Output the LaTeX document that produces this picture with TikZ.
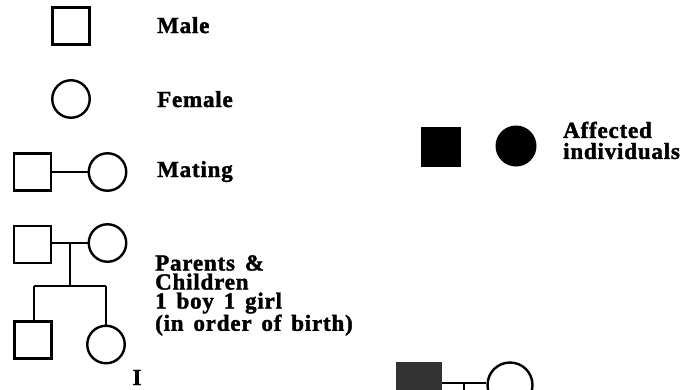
\documentclass[tikz,border=0pt]{standalone}
\usepackage{fontspec}
\setmainfont{Liberation Serif}[LetterSpace=3.5,WordSpace=1.5,BoldFeatures={FakeBold=1.6}]
\begin{document}
\begin{tikzpicture}[x=1pt,y=-1pt,
  sym/.style={draw=black,line width=2.4pt,inner sep=0pt,fill=white},
  male/.style={sym,rectangle,minimum size=37pt},
  female/.style={sym,circle,minimum size=37.5pt},
  conn/.style={draw=black,line width=2.4pt},
  lbl/.style={anchor=base west,inner sep=0pt,font=\bfseries\fontsize{23}{19}\selectfont,align=left}
]
\useasboundingbox (0,0) rectangle (687,389);
\clip (0,0) rectangle (687,389);
% Male / Female legend
\node[male] (m1) at (71,26) {};
\node[lbl] (tm) at (157,33) {Male};
\node[female] (f1) at (71,99) {};
\node[lbl] (tf) at (157,107) {Female};
% Mating
\node[male] (m2) at (32.5,172) {};
\node[female] (f2) at (107.5,172) {};
\draw[conn] (m2) -- (f2);
\node[lbl] (tmat) at (157,177) {Mating};
% Parents & children
\node[male] (m3) at (32.5,244.5) {};
\node[female] (f3) at (107.5,243) {};
\coordinate (mid) at (70,243);
\coordinate (sib) at (70,286);
\coordinate (sl) at (34,286);
\coordinate (sr) at (106,286);
\node[male] (c1) at (33,340) {};
\node[female] (c2) at (106,344.5) {};
\draw[conn] (m3.east |- mid) -- (f3.west);
\draw[conn] (mid) -- (sib);
\draw[conn] (sl) -- (sr);
\draw[conn] (sl) -- (c1.north -| sl);
\draw[conn] (sr) -- (c2.north);
\node[lbl,anchor=north west] (tp) at (155,255) {Parents \&\\Children\\1 boy 1 girl\\(in order of birth)};
\node[lbl,anchor=base] (gen) at (137,385) {I};
% Affected
\node[sym,rectangle,fill=black,minimum size=40pt,draw=none] (am) at (441,147) {};
\node[sym,circle,fill=black,minimum size=41pt,draw=none] (af) at (516,146) {};
\node[lbl,anchor=north west,font=\bfseries\fontsize{23}{21}\selectfont] (ta) at (563,121.5) {Affected\\individuals};
% Bottom partial pedigree
\node[rectangle,fill=black!80,minimum size=46pt,inner sep=0pt] (bm) at (419,385) {};
\node[female,minimum size=45pt] (bf) at (510,385) {};
\coordinate (bt) at (464,383);
\coordinate (btd) at (464,400);
\draw[line width=1.8pt] (bm.east |- bt) -- (bf.west |- bt);
\draw[line width=1.8pt] (bt) -- (btd);
\end{tikzpicture}
\end{document}
